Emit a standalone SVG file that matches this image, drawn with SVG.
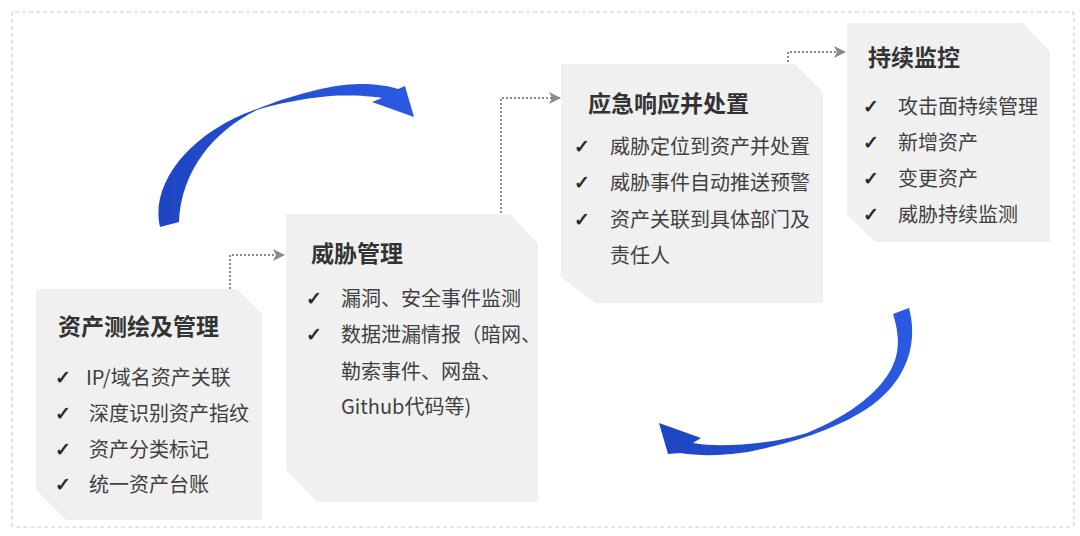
<svg xmlns="http://www.w3.org/2000/svg" width="1080" height="536" viewBox="0 0 1080 536">
  <style>
    .box { fill: #f0f0f0; }
    .title { font-family: "Noto Sans CJK SC", "Liberation Sans", sans-serif; font-size: 23px; font-weight: bold; fill: #333333; }
    .item { font-family: "Noto Sans CJK SC", "Liberation Sans", sans-serif; font-size: 20px; fill: #404040; }
    .chk { font-family: "DejaVu Sans", sans-serif; font-size: 19px; fill: #222222; stroke: #222222; stroke-width: 0.6; }
    .dot { fill: none; stroke: #8a8a8a; stroke-width: 2; stroke-dasharray: 2 2; }
    .blue { fill: url(#bg); }
  </style>
  <defs>
    <marker id="ah" viewBox="0 0 12 12" refX="11" refY="6" markerWidth="12" markerHeight="12" markerUnits="userSpaceOnUse" orient="auto">
      <path d="M0,0 L12,6 L0,12 L3,6 Z" fill="#8a8a8a"/>
    </marker>
    <linearGradient id="bg" x1="0" y1="0" x2="1" y2="0">
      <stop offset="0" stop-color="#1f45c2"/>
      <stop offset="1" stop-color="#2a5ae2"/>
    </linearGradient>
  </defs>
  <rect x="12" y="12" width="1062" height="515" rx="3" fill="#ffffff" stroke="#cccccc" stroke-width="1.2" stroke-dasharray="4 3"/>

  <g id="connectors">
    <path class="dot" d="M230,289 V255 H284" marker-end="url(#ah)"/>
    <path class="dot" d="M501,213 V98 H560" marker-end="url(#ah)"/>
    <path class="dot" d="M788,62 V52 H845" marker-end="url(#ah)"/>
    <path class="blue" d="M160,227 C150,185 188,133 257,109 C290,96 330,84 360,84 C375,84 390,86 398,89 L405,86 L414,117 L372,102 L382,98 C370,96 350,95 330,96 C300,99 275,104 257,110 C215,130 181,170 179,222 Z"/>
    <path class="blue" d="M909,308 C919,345 906,386 860,413 C830,431 790,443 757,450 C735,455 705,457 680,453 L668,454 L659,423 L701,438 L693,443 C715,447 745,445 773,441 C790,438 800,435 807,433 C850,415 885,390 895,360 C900,345 898,330 893,314 Z"/>
  </g>

  <g id="node-asset">
    <path class="box" d="M36,289 H237 L262,314 V520 H66 L36,490 Z"/>
    <text class="title" x="58" y="335">资产测绘及管理</text>
    <text class="chk" x="55" y="384">✓</text>
    <text class="item" x="86" y="385">IP/域名资产关联</text>
    <text class="chk" x="55" y="420">✓</text>
    <text class="item" x="89" y="421">深度识别资产指纹</text>
    <text class="chk" x="55" y="456">✓</text>
    <text class="item" x="89" y="457">资产分类标记</text>
    <text class="chk" x="55" y="491">✓</text>
    <text class="item" x="89" y="492">统一资产台账</text>
  </g>

  <g id="node-threat">
    <path class="box" d="M286,214 H510 L538,244 V502 H317 L286,470 Z"/>
    <text class="title" x="311" y="262">威胁管理</text>
    <text class="chk" x="306" y="305">✓</text>
    <text class="item" x="341" y="306">漏洞、安全事件监测</text>
    <text class="chk" x="306" y="341">✓</text>
    <text class="item" x="341" y="342">数据泄漏情报（暗网、</text>
    <text class="item" x="341" y="379">勒索事件、网盘、</text>
    <text class="item" x="341" y="414">Github代码等)</text>
  </g>

  <g id="node-response">
    <path class="box" d="M561,64 H795 L823,92 V303 H595 L561,277 Z"/>
    <text class="title" x="588" y="112">应急响应并处置</text>
    <text class="chk" x="574" y="153">✓</text>
    <text class="item" x="610" y="154">威胁定位到资产并处置</text>
    <text class="chk" x="574" y="189">✓</text>
    <text class="item" x="610" y="190">威胁事件自动推送预警</text>
    <text class="chk" x="574" y="226">✓</text>
    <text class="item" x="610" y="227">资产关联到具体部门及</text>
    <text class="item" x="610" y="263">责任人</text>
  </g>

  <g id="node-monitor">
    <path class="box" d="M847,23 H1023 L1050,52 V242 H875 L847,215 Z"/>
    <text class="title" x="868" y="66">持续监控</text>
    <text class="chk" x="863" y="113">✓</text>
    <text class="item" x="898" y="114">攻击面持续管理</text>
    <text class="chk" x="863" y="149">✓</text>
    <text class="item" x="898" y="150">新增资产</text>
    <text class="chk" x="863" y="185">✓</text>
    <text class="item" x="898" y="186">变更资产</text>
    <text class="chk" x="863" y="221">✓</text>
    <text class="item" x="898" y="222">威胁持续监测</text>
  </g>
</svg>
